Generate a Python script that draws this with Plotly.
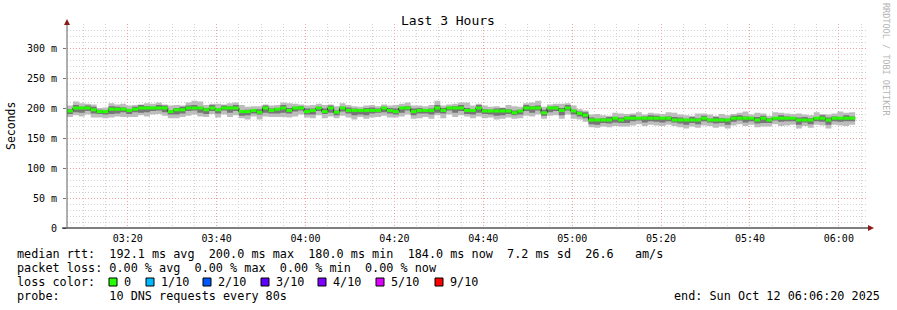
import plotly.graph_objects as go
import pandas as pd

# ---------------- data (ms), one value per 80 s step ----------------
median = (
    [195] + [200]*3 + [197] + [194]*2 + [198]*3 + [196] + [198] + [200]*5 + [194] + [197]*2
    + [200]*3 + [197] + [200] + [197] + [200]*3 + [194]*2 + [196] + [193] + [200] + [196]
    + [198] + [200] + [196] + [200]*2 + [194] + [196] + [200] + [194] + [200] + [193] + [200]
    + [196]*6 + [200] + [196] + [194] + [200]*2 + [194] + [196]*3 + [200] + [196] + [200]*3
    + [196]*2 + [200] + [195]*5 + [192] + [195] + [200]*3 + [192] + [200]*2 + [196] + [200]
    + [195] + [191] + [188] + [180]*4 + [183] + [180] + [183]*8 + [180]*5 + [183] + [180]*4
    + [183]*4 + [180] + [183] + [180] + [183]*4 + [180]*3 + [183]*2 + [180] + [183]*4
)
# smoke extents above / below the median (ms)
up_outer = [9, 11, 8, 7, 9, 6, 7, 10, 8, 9,
            8, 7, 6, 8, 7, 9, 6, 10, 8, 7,
            9, 12, 11, 8, 7, 10, 6, 8, 9, 11,
            8, 7, 10, 6, 8, 7, 9, 12, 7, 6,
            10, 9, 7, 11, 6, 10, 8, 9, 7, 6,
            8, 9, 7, 6, 8, 11, 7, 9, 10, 8,
            7, 9, 12, 8, 6, 7, 9, 13, 8, 7,
            9, 7, 8, 6, 10, 11, 7, 8, 9, 12,
            10, 6, 7, 11, 8, 9, 7, 8, 9, 10,
            8, 7, 9, 11, 7, 8, 10, 6, 9, 8,
            7, 10, 12, 9, 8, 7, 11, 8, 9, 7,
            10, 8, 7, 9, 11, 6, 12, 8, 7, 10,
            9, 8, 7, 11, 9, 8, 10, 7, 9, 8,
            11, 9, 10]
dn_outer = [10, 12, 14, 11, 13, 10, 11, 14, 12, 13,
            11, 13, 12, 14, 11, 10, 13, 11, 14, 12,
            13, 11, 14, 12, 10, 13, 11, 15, 12, 11,
            13, 10, 12, 14, 11, 13, 15, 12, 14, 11,
            10, 13, 12, 11, 14, 10, 13, 12, 15, 11,
            14, 12, 11, 13, 12, 10, 14, 11, 12, 13,
            11, 14, 12, 13, 11, 15, 12, 10, 13, 14,
            12, 11, 14, 13, 11, 10, 12, 13, 14, 11,
            10, 13, 12, 14, 11, 13, 10, 11, 12, 13,
            11, 12, 13, 11, 14, 12, 10, 13, 11, 12,
            13, 11, 10, 12, 14, 11, 13, 12, 10, 13,
            11, 14, 12, 10, 13, 11, 12, 14, 11, 10,
            13, 12, 11, 14, 10, 13, 11, 12, 14, 11,
            12, 13, 11]
up_inner = [3, 5, 2, 4, 5, 3, 2, 5, 4, 3,
            2, 4, 5, 3, 2, 5, 4, 2, 3, 5,
            4, 5, 2, 3, 5, 2, 4, 3, 5, 2,
            3, 2, 5, 4, 3, 2, 5, 4, 2, 3,
            5, 3, 2, 5, 4, 3, 2, 5, 3, 2,
            4, 5, 3, 2, 4, 5, 2, 3, 5, 4,
            2, 3, 5, 4, 2, 3, 5, 4, 2, 5,
            3, 2, 4, 5, 3, 4, 2, 5, 3, 4,
            5, 2, 3, 4, 5, 2, 3, 5, 4, 2,
            3, 5, 2, 4, 3, 5, 2, 3, 5, 4,
            2, 3, 5, 4, 2, 5, 3, 4, 2, 5,
            3, 2, 4, 5, 3, 2, 5, 4, 3, 2,
            5, 3, 2, 4, 5, 3, 2, 5, 4, 3,
            2, 5, 3]
dn_inner = [5, 7, 8, 5, 6, 4, 5, 8, 7, 5,
            6, 5, 8, 7, 5, 4, 7, 5, 8, 6,
            5, 4, 8, 7, 5, 6, 4, 8, 5, 7,
            6, 5, 4, 8, 5, 7, 8, 5, 6, 4,
            5, 7, 5, 4, 8, 5, 6, 5, 8, 7,
            8, 5, 4, 7, 5, 5, 8, 4, 6, 5,
            5, 7, 8, 5, 4, 8, 5, 6, 7, 8,
            5, 6, 8, 7, 5, 4, 6, 5, 8, 4,
            5, 7, 5, 8, 4, 6, 5, 5, 7, 8,
            5, 6, 7, 5, 8, 5, 4, 7, 5, 6,
            7, 5, 4, 6, 8, 5, 7, 5, 4, 6,
            5, 8, 6, 4, 7, 5, 6, 8, 5, 4,
            6, 5, 5, 8, 4, 7, 5, 6, 8, 5,
            6, 5, 5]

y_tickvals = [0, 50, 100, 150, 200, 250, 300]
y_ticktext = ["0", "50 m", "100 m", "150 m", "200 m", "250 m", "300 m"]

loss_labels = ["0", "1/10", "2/10", "3/10", "4/10", "5/10", "9/10"]
loss_colors = ["#26ff00", "#00b8ff", "#0059ff", "#5e00ff", "#7e00ff", "#dd00ff", "#ff0000"]

rtt_line = "median rtt:  192.1 ms avg  200.0 ms max  180.0 ms min  184.0 ms now  7.2 ms sd  26.6   am/s"
loss_line = "packet loss: 0.00 % avg  0.00 % max  0.00 % min  0.00 % now"
probe_line = "probe:       10 DNS requests every 80s"
end_line = "end: Sun Oct 12 06:06:20 2025"

start_time = "2025-10-12 03:06:20"
end_time = "2025-10-12 06:06:20"
step_seconds = 80

# ---------------- build ----------------
N = len(median)
t0 = pd.Timestamp(start_time)
edges = [t0 + pd.Timedelta(seconds=step_seconds * i) for i in range(N + 1)]


def hv(vals):
    return list(vals) + [vals[-1]]


outer_lo = [m - d for m, d in zip(median, dn_outer)]
outer_hi = [m + u for m, u in zip(median, up_outer)]
inner_lo = [m - d for m, d in zip(median, dn_inner)]
inner_hi = [m + u for m, u in zip(median, up_inner)]

fig = go.Figure()


def band(lo, hi, color):
    fig.add_trace(go.Scatter(x=edges, y=hv(lo), mode="lines",
                             line=dict(width=0, shape="hv"), hoverinfo="skip", showlegend=False))
    fig.add_trace(go.Scatter(x=edges, y=hv(hi), mode="lines",
                             line=dict(width=0, shape="hv"), fill="tonexty", fillcolor=color,
                             hoverinfo="skip", showlegend=False))


band(outer_lo, outer_hi, "#bdbdbd")
band(inner_lo, inner_hi, "#767676")

fig.add_trace(go.Scatter(x=edges, y=hv(median), mode="lines",
                         line=dict(width=1, shape="hv", color="#202020"), showlegend=False))

gx, gy = [], []
for i in range(N):
    gx += [edges[i], edges[i + 1], None]
    gy += [median[i], median[i], None]
fig.add_trace(go.Scatter(x=gx, y=gy, mode="lines",
                         line=dict(width=3, color=loss_colors[0]), showlegend=False))

L, R, T, B = 67, 867, 24, 228
W, H = 897, 310


def px(x):
    return (x - L) / (R - L)


def py(y):
    return (B - y) / (B - T)


FONT = "DejaVu Sans Mono"
MAJ = "#f2a0a0"
MIN = "#d2d2d2"

fig.update_layout(
    width=W, height=H,
    margin=dict(l=L, r=W - R, t=T, b=H - B, pad=0),
    paper_bgcolor="white", plot_bgcolor="white",
    showlegend=False,
    font=dict(family=FONT, size=10, color="black"),
)
fig.update_xaxes(
    type="date", range=[start_time, end_time],
    tickformat="%H:%M", tick0="2025-10-12 03:20:00", dtick=1200000,
    showgrid=True, gridcolor=MAJ, griddash="1px,2px", gridwidth=1,
    minor=dict(dtick=300000, tick0="2025-10-12 03:20:00", showgrid=True,
               gridcolor=MIN, griddash="1px,2px", gridwidth=1),
    showline=False, zeroline=False, ticks="", ticklabelstandoff=3,
    tickfont=dict(family=FONT, size=10),
)
fig.update_yaxes(
    range=[0, 340], tickmode="array", tickvals=y_tickvals, ticktext=y_ticktext,
    showgrid=True, gridcolor=MAJ, griddash="1px,2px", gridwidth=1,
    minor=dict(dtick=10, tick0=0, showgrid=True, gridcolor=MIN, griddash="1px,2px", gridwidth=1),
    showline=False, zeroline=False, ticks="outside", ticklen=3, tickcolor="#777777",
    tickfont=dict(family=FONT, size=10), ticklabelstandoff=4,
)

shapes = []
# axis lines
shapes.append(dict(type="line", xref="paper", yref="paper", x0=px(62), x1=px(869), y0=0, y1=0,
                   line=dict(color="#000000", width=1)))
shapes.append(dict(type="line", xref="paper", yref="paper", x0=0, x1=0, y0=0, y1=py(23),
                   line=dict(color="#606060", width=1)))
# arrows
shapes.append(dict(type="path", xref="paper", yref="paper",
                   path=f"M {px(64)} {py(25)} L {px(70)} {py(25)} L {px(67)} {py(19)} Z",
                   fillcolor="#8b1a1a", line=dict(width=0)))
shapes.append(dict(type="path", xref="paper", yref="paper",
                   path=f"M {px(868)} {py(225)} L {px(868)} {py(231)} L {px(874)} {py(228)} Z",
                   fillcolor="#8b1a1a", line=dict(width=0)))

NB = "\u00a0"
ann = []
ann.append(dict(text="Last 3 Hours", x=px(448), y=py(20), xref="paper", yref="paper",
                showarrow=False, xanchor="center", yanchor="middle",
                font=dict(family=FONT, size=13, color="black")))
ann.append(dict(text="Seconds", x=px(11), y=py(126), xref="paper", yref="paper",
                showarrow=False, xanchor="center", yanchor="middle", textangle=-90,
                font=dict(family=FONT, size=11.5, color="black")))
ann.append(dict(text="RRDTOOL / TOBI OETIKER".replace(" ", NB), x=px(886), y=py(59),
                xref="paper", yref="paper", showarrow=False, xanchor="center", yanchor="middle",
                textangle=90, font=dict(family=FONT, size=8.5, color="#b4b4b4")))

FS = 11.8
for txt, yy in [(rtt_line, 254), (loss_line, 268), ("loss color:", 282), (probe_line, 296)]:
    ann.append(dict(text=txt.replace(" ", NB), x=px(15), y=py(yy), xref="paper", yref="paper",
                    showarrow=False, xanchor="left", yanchor="middle",
                    font=dict(family=FONT, size=FS, color="black")))
ann.append(dict(text=end_line.replace(" ", NB), x=px(882), y=py(296), xref="paper", yref="paper",
                showarrow=False, xanchor="right", yanchor="middle",
                font=dict(family=FONT, size=FS, color="black")))

box_x = [109, 146, 203, 261, 318, 376, 435]
for bx, lab, col in zip(box_x, loss_labels, loss_colors):
    shapes.append(dict(type="rect", xref="paper", yref="paper",
                       x0=px(bx), x1=px(bx + 8), y0=py(286), y1=py(278),
                       fillcolor=col, line=dict(color="#000000", width=1)))
    ann.append(dict(text=lab, x=px(bx + 13), y=py(282), xref="paper", yref="paper",
                    showarrow=False, xanchor="left", yanchor="middle",
                    font=dict(family=FONT, size=FS, color="black")))

fig.update_layout(shapes=shapes, annotations=ann)
fig.write_html("out.html")
